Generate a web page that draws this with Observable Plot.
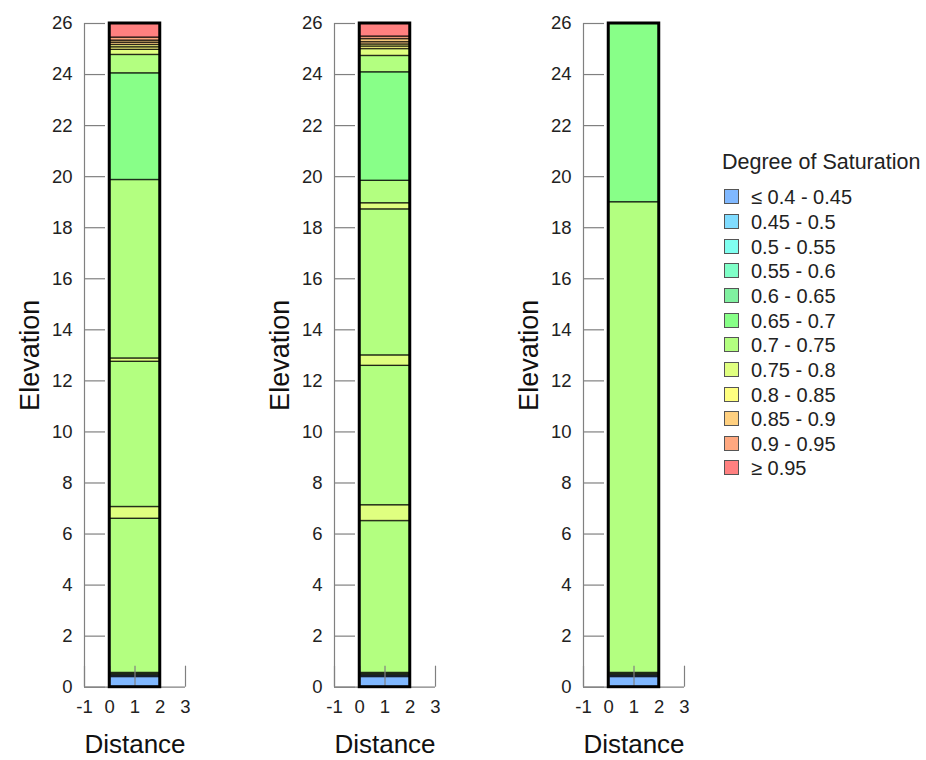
<!DOCTYPE html>
<html><head><meta charset="utf-8">
<script src="https://cdn.jsdelivr.net/npm/d3@7"></script>
<script src="https://cdn.jsdelivr.net/npm/@observablehq/plot@0.6"></script>
<style>
body{margin:0;background:#fff;font-family:"Liberation Sans",Arial,sans-serif;}
#root{position:relative;width:926px;height:760px;overflow:hidden;background:#fff;}
.panel{position:absolute;top:0;}
#legend{position:absolute;left:722px;top:0;width:204px;height:760px;color:#222;}
#legend .title{position:absolute;left:0;top:149px;font-size:21.5px;line-height:26px;white-space:nowrap;}
#legend .item{position:absolute;left:0;height:24px;line-height:24px;font-size:20px;white-space:nowrap;}
#legend .sw{position:absolute;left:2px;top:4px;width:13px;height:13px;border:1.5px solid #555;}
#legend .lab{position:absolute;left:29px;top:0;}
</style></head><body><div id="root"><div id="legend"></div></div><script>
// Saturation classes (legend)
const classLabels = ["≤ 0.4 - 0.45","0.45 - 0.5","0.5 - 0.55","0.55 - 0.6","0.6 - 0.65","0.65 - 0.7","0.7 - 0.75","0.75 - 0.8","0.8 - 0.85","0.85 - 0.9","0.9 - 0.95","≥ 0.95"];
const classColors = ["#80b8ff","#80dcff","#80fff0","#80ffc8","#80f0a0","#88ff88","#b3ff80","#e0ff80","#ffff80","#ffd080","#ffa880","#ff8080"];

// Axis ticks
const yTicks = [0,2,4,6,8,10,12,14,16,18,20,22,24,26];
const xTicks = [-1,0,1,2,3];
const xDomain = [-1,3];
const yDomain = [0,26];
const columnX = [0,2];

// Layer tops (elevation) and class index per panel
const tops1 = [0.4,0.44,0.48,0.52,0.56,6.6,7.06,12.75,12.88,19.87,24.05,24.77,24.97,25.07,25.16,25.25,25.33,25.45,26];
const cls1  = [0,0,0,6,6,6,7,6,7,6,5,6,7,8,8,9,9,10,11];
const tops2 = [0.4,0.44,0.48,0.52,0.56,6.51,7.13,12.59,13.0,18.72,18.96,19.84,24.09,24.73,25.0,25.1,25.18,25.27,25.39,25.49,26];
const cls2  = [0,0,0,6,6,6,7,6,7,6,7,6,5,6,7,8,8,9,9,10,11];
const tops3 = [0.4,0.44,0.48,0.52,0.56,19.0,26];
const cls3  = [0,0,0,6,6,6,5];

const panels = [[tops1,cls1],[tops2,cls2],[tops3,cls3]];
const panelLeft = [0,250,499];

const font = '"Liberation Sans", Arial, sans-serif';
const root = document.getElementById("root");

panels.forEach(([tops, cls], p) => {
  const layers = tops.map((t,i) => ({bottom: i ? tops[i-1] : 0, top: t, sat: classLabels[cls[i]]}));
  const column = [{x1: columnX[0], x2: columnX[1], y1: 0, y2: tops[tops.length-1]}];
  const chart = Plot.plot({
    width: 250, height: 760,
    marginLeft: 84, marginRight: 65, marginTop: 23, marginBottom: 73.3,
    x: {domain: xDomain, label: null},
    y: {domain: yDomain, label: null},
    color: {domain: classLabels, range: classColors},
    style: {fontFamily: font, fontSize: "18px", color: "#222", background: "transparent", overflow: "visible"},
    marks: [
      Plot.rect(layers, {x1: () => columnX[0], x2: () => columnX[1], y1: "bottom", y2: "top", fill: "sat", stroke: "#000", strokeOpacity: 0.7, strokeWidth: 1.4}),
      Plot.ruleX([xDomain[0]], {y1: yDomain[0], y2: yDomain[1], stroke: "#808080", strokeWidth: 1.2}),
      Plot.ruleY([yDomain[0]], {x1: xDomain[0], x2: xDomain[1], stroke: "#808080", strokeWidth: 1.2}),
      Plot.axisY({ticks: yTicks, tickSize: -21, tickFormat: () => "", stroke: "#808080", strokeWidth: 1.2, label: null}),
      Plot.axisX({ticks: xTicks, tickSize: -21, tickFormat: () => "", stroke: "#808080", strokeWidth: 1.2, label: null}),
      Plot.axisY({ticks: yTicks, tickSize: 0, tickPadding: 12, tickFormat: d => String(d), fontSize: 18.5, label: null}),
      Plot.axisX({ticks: xTicks, tickSize: 0, tickPadding: 13, tickFormat: d => String(d), fontSize: 18.5, label: null}),
      Plot.rect(column, {x1: "x1", x2: "x2", y1: "y1", y2: "y2", fill: "none", stroke: "#000", strokeWidth: 3}),
      Plot.text(["Elevation"], {frameAnchor: "left", dx: -54, rotate: -90, textAnchor: "middle", lineAnchor: "middle", fontSize: 27, fill: "#111"}),
      Plot.text(["Distance"], {frameAnchor: "bottom", dy: 57, textAnchor: "middle", lineAnchor: "middle", fontSize: 26, fill: "#111"})
    ]
  });
  chart.classList.add("panel");
  chart.style.left = panelLeft[p] + "px";
  root.appendChild(chart);
});

// Legend
const legend = document.getElementById("legend");
const title = document.createElement("div");
title.className = "title";
title.textContent = "Degree of Saturation";
legend.appendChild(title);
classLabels.forEach((lab, i) => {
  const item = document.createElement("div");
  item.className = "item";
  item.style.top = (185.3 + i * 24.65) + "px";
  const sw = document.createElement("span");
  sw.className = "sw";
  sw.style.background = classColors[i];
  const tx = document.createElement("span");
  tx.className = "lab";
  tx.textContent = lab;
  item.appendChild(sw); item.appendChild(tx);
  legend.appendChild(item);
});
</script></body></html>
